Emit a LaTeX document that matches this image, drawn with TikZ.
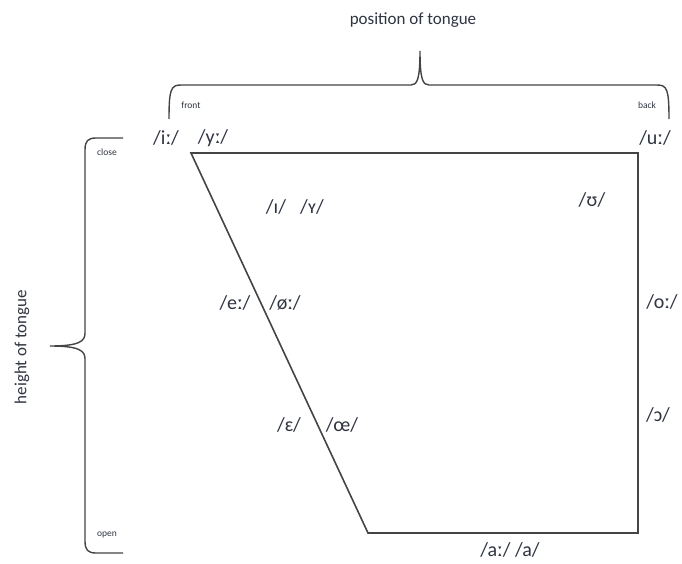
\documentclass[tikz,border=0pt]{standalone}
\usepackage{fontspec}
\setmainfont{Carlito}
\usepackage{tikz}
\usetikzlibrary{positioning}
\definecolor{inkgray}{HTML}{2E3440}
\definecolor{linegray}{HTML}{444444}
\tikzset{
    vowel/.style={
                text=inkgray,
                inner sep=0pt,
                font=\fontsize{20}{22}\selectfont
            },
    side/.style={
                text=inkgray,
                inner sep=0pt,
                font=\fontsize{9.5}{11}\selectfont
            },
    axis/.style={
                text=inkgray,
                inner sep=0pt,
                font=\fontsize{17}{19}\selectfont
            },
    chart/.style={draw=linegray,line width=1.6pt,line join=miter},
    bracket/.style={draw=linegray,line width=1.4pt},
}
\begin{document}
\begin{tikzpicture}[x=1pt,y=-1pt]
\useasboundingbox (0,0) rectangle (682,564);
% Vowel chart
\coordinate (closefront) at (191,153);
\coordinate (closeback) at (638,153);
\coordinate (openback) at (638,533);
\coordinate (openfront) at (368,533);
\draw[chart] (openfront) -- (closefront) -- (closeback) -- (openback) -- cycle;
% Brackets
\draw[bracket] (169,119) .. controls (169,89) and (171,85) .. (181,85) -- (411,85)
  .. controls (417,85) and (420,80) .. (420,51)
  .. controls (420,80) and (423,85) .. (429,85) -- (657,85)
  .. controls (667,85) and (669,89) .. (669,119);
\draw[bracket] (123,138) -- (96,138) .. controls (88,138) and (85,141) .. (85,150) -- (85,333)
  .. controls (85,341) and (80,346) .. (50,346)
  .. controls (80,346) and (85,351) .. (85,359) -- (85,541)
  .. controls (85,550) and (88,553) .. (96,553) -- (123,553);
% Axis labels
\node[axis] (position) at (413,20) {position of tongue};
\node[axis,rotate=90] (height) at (22,347) {height of tongue};
\node[side] (front) at (191,105) {front};
\node[side] (back) at (647,105) {back};
\node[side] (close) at (107,152) {close};
\node[side] (open) at (107,535) {open};
% Vowels
\node[vowel] (iL) at (166,138) {/iː/};
\node[vowel] (yL) at (213,138) {/yː/};
\node[vowel] (uL) at (655,138) {/uː/};
\node[vowel] (I) at (276,207) {/ɪ/};
\node[vowel] (Y) at (312,207) {/ʏ/};
\node[vowel] (U) at (592,200) {/ʊ/};
\node[vowel] (eL) at (235,303) {/eː/};
\node[vowel] (oeL) at (285,303) {/øː/};
\node[vowel] (oL) at (662,302) {/oː/};
\node[vowel] (E) at (289,425) {/ɛ/};
\node[vowel] (OE) at (342,425) {/œ/};
\node[vowel] (O) at (658,415) {/ɔ/};
\node[vowel] (aL) at (510,550) {/aː/ /a/};
\end{tikzpicture}
\end{document}
